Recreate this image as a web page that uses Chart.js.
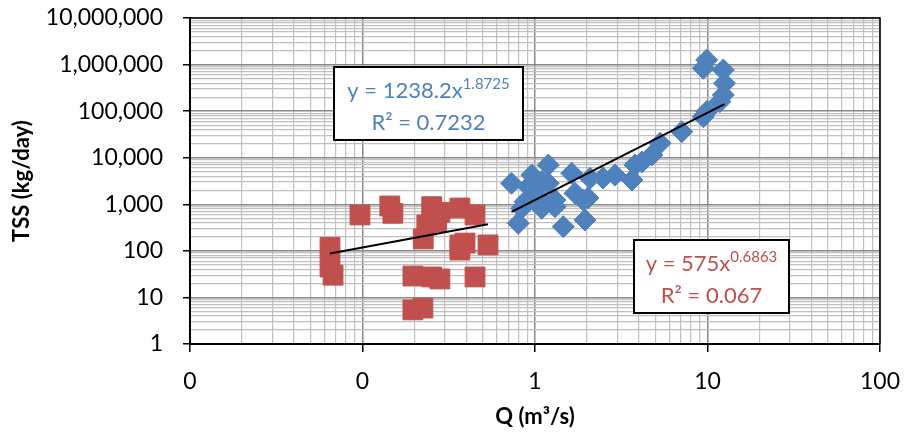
<!DOCTYPE html>
<html>
<head>
<meta charset="utf-8">
<script src="https://cdn.jsdelivr.net/npm/chart.js@4.4.1/dist/chart.umd.min.js"></script>
<style>
  html, body { margin: 0; padding: 0; background: #fff; }
  #wrap { width: 904px; height: 438px; }
</style>
</head>
<body>
<div id="wrap"><canvas id="tssChart" width="904" height="438"></canvas></div>
<script>
// Red series: low-flow samples
var redQ = [0.0648, 0.0648, 0.0675, 0.0967, 0.144, 0.150, 0.252, 0.236, 0.225, 0.269, 0.281,
            0.367, 0.449, 0.367, 0.393, 0.367, 0.534, 0.196, 0.252, 0.281, 0.449, 0.196, 0.224];
var redTSS = [119, 45, 30, 589, 919, 641, 888, 359, 180, 423, 673,
              832, 589, 134, 147, 104, 134, 28.8, 27.5, 24.9, 27.5, 5.4, 5.9];

// Blue series: high-flow samples
var blueQ = [0.731, 0.800, 0.837, 0.875, 0.915, 0.957, 1.045, 1.093, 1.093, 1.194, 1.194, 1.306,
             1.306, 1.459, 1.632, 1.706, 1.905, 1.950, 2.084, 2.029, 2.48, 2.91, 3.65, 3.80,
             4.17, 4.77, 5.31, 7.09, 9.46, 9.89, 11.8, 12.35, 12.55, 12.35, 9.89, 9.46];
var blueTSS = [2825, 391, 820, 1137, 2387, 4256, 1456, 820, 3055, 6979, 2825, 1236,
               888, 330, 4627, 1722, 1236, 460, 3614, 1365, 3666, 4256, 3324, 6979,
               8094, 11430, 20400, 36200, 76000, 97300, 159600, 222300, 396300, 765000, 1254000, 831800];

// Power trendline coefficients (y = a * x^b)
var blueFit = { a: 1238.2, b: 1.8725, r2: '0.7232' };
var redFit = { a: 575, b: 0.6863, r2: '0.067' };

var xTicks = [0.01, 0.1, 1, 10, 100];
var yTicks = [1, 10, 100, 1000, 10000, 100000, 1000000, 10000000];

var BLUE = '#4F81BD';
var RED = '#C0504D';
var FONT = 'Lato';

function pairs(xs, ys) {
  return xs.map(function (x, i) { return { x: x, y: ys[i] }; });
}

function fitLine(xs, fit) {
  var lo = Math.min.apply(null, xs), hi = Math.max.apply(null, xs);
  return [lo, hi].map(function (x) { return { x: x, y: fit.a * Math.pow(x, fit.b) }; });
}

// every 1..9 multiple inside each decade, for log grid lines
function logTicks(decades) {
  var out = [];
  for (var i = 0; i < decades.length - 1; i++) {
    for (var k = 1; k < 10; k++) out.push({ value: decades[i] * k });
  }
  out.push({ value: decades[decades.length - 1] });
  return out;
}

function isDecade(v) {
  var l = Math.log10(v);
  return Math.abs(l - Math.round(l)) < 1e-9;
}

function gridColor(ctx) {
  return ctx.tick && isDecade(ctx.tick.value) ? '#888888' : '#c0c0c0';
}
function gridWidth(ctx) {
  return ctx.tick && isDecade(ctx.tick.value) ? 1.5 : 1.2;
}
function tickColor(ctx) {
  return ctx.tick && isDecade(ctx.tick.value) ? '#000' : 'rgba(0,0,0,0)';
}
function tickLabel(v) {
  return isDecade(v) ? Math.round(v).toLocaleString('en-US') : '';
}

// equation boxes, placed relative to the plot area
var eqBoxes = [
  { fit: blueFit, color: BLUE, left: 144, top: 49, width: 189, height: 73, main: 'y = 1238.2x', sup: '1.8725' },
  { fit: redFit, color: RED, left: 444, top: 222, width: 155, height: 73, main: 'y = 575x', sup: '0.6863' }
];

var framePlugin = {
  id: 'frame',
  afterDraw: function (chart) {
    var ctx = chart.ctx, a = chart.chartArea;
    ctx.save();
    ctx.strokeStyle = '#000';
    ctx.lineWidth = 1.5;
    ctx.beginPath();
    ctx.moveTo(a.left, a.top);
    ctx.lineTo(a.right, a.top);
    ctx.lineTo(a.right, a.bottom);
    ctx.stroke();

    eqBoxes.forEach(function (b) {
      var x0 = a.left + b.left, y0 = a.top + b.top;
      ctx.fillStyle = '#fff';
      ctx.fillRect(x0, y0, b.width, b.height);
      ctx.lineWidth = 2;
      ctx.strokeStyle = '#000';
      ctx.strokeRect(x0, y0, b.width, b.height);

      var cx = x0 + b.width / 2;
      ctx.fillStyle = b.color;
      ctx.textBaseline = 'alphabetic';
      ctx.textAlign = 'left';
      ctx.font = '22px ' + FONT;
      var wMain = ctx.measureText(b.main).width;
      ctx.font = '15px ' + FONT;
      var wSup = ctx.measureText(b.sup).width;
      var sx = cx - (wMain + wSup) / 2;
      ctx.font = '22px ' + FONT;
      ctx.fillText(b.main, sx, y0 + 31);
      ctx.font = '15px ' + FONT;
      ctx.fillText(b.sup, sx + wMain, y0 + 22);

      ctx.font = '22px ' + FONT;
      ctx.textAlign = 'center';
      ctx.fillText('R\u00B2 = ' + b.fit.r2, cx, y0 + 63);
    });
    ctx.restore();
  }
};

new Chart(document.getElementById('tssChart'), {
  type: 'scatter',
  data: {
    datasets: [
      {
        label: 'Blue trend',
        type: 'line',
        data: fitLine(blueQ, blueFit),
        borderColor: '#000',
        borderWidth: 2,
        pointRadius: 0,
        fill: false,
        order: 0
      },
      {
        label: 'Red trend',
        type: 'line',
        data: fitLine(redQ, redFit),
        borderColor: '#000',
        borderWidth: 2,
        pointRadius: 0,
        fill: false,
        order: 0
      },
      {
        label: 'Red',
        data: pairs(redQ, redTSS),
        pointStyle: 'rect',
        pointRadius: 14,
        backgroundColor: RED,
        borderColor: RED,
        borderWidth: 1,
        order: 1
      },
      {
        label: 'Blue',
        data: pairs(blueQ, blueTSS),
        pointStyle: 'rectRot',
        pointRadius: 11,
        backgroundColor: BLUE,
        borderColor: BLUE,
        borderWidth: 1,
        order: 2
      }
    ]
  },
  options: {
    responsive: false,
    animation: false,
    layout: { padding: { top: 18, right: 24, left: 0, bottom: 0 } },
    plugins: {
      legend: { display: false },
      tooltip: { enabled: false }
    },
    scales: {
      x: {
        type: 'logarithmic',
        min: xTicks[0],
        max: xTicks[xTicks.length - 1],
        afterBuildTicks: function (s) { s.ticks = logTicks(xTicks); },
        afterFit: function (s) { s.height = 94; s.paddingLeft = 0; s.paddingRight = 0; },
        border: { color: '#000', width: 2 },
        grid: { color: gridColor, lineWidth: gridWidth, tickColor: tickColor, tickLength: 8, tickWidth: 1.5 },
        ticks: {
          autoSkip: false, maxRotation: 0, padding: 16, color: '#000',
          font: { family: FONT, size: 23 },
          callback: tickLabel
        },
        title: {
          display: true, text: 'Q (m\u00B3/s)', color: '#000',
          font: { family: FONT, size: 22, weight: 'bold' },
          padding: { top: 0, bottom: 8 }
        }
      },
      y: {
        type: 'logarithmic',
        min: yTicks[0],
        max: yTicks[yTicks.length - 1],
        afterBuildTicks: function (s) { s.ticks = logTicks(yTicks); },
        afterFit: function (s) { s.width = 190; s.paddingTop = 0; s.paddingBottom = 0; },
        border: { color: '#000', width: 2 },
        grid: { color: gridColor, lineWidth: gridWidth, tickColor: tickColor, tickLength: 7, tickWidth: 1.5 },
        ticks: {
          autoSkip: false, padding: 20, color: '#000',
          font: { family: FONT, size: 23 },
          callback: tickLabel
        },
        title: {
          display: true, text: 'TSS (kg/day)', color: '#000',
          font: { family: FONT, size: 22, weight: 'bold' },
          padding: { top: 9, bottom: 0 }
        }
      }
    }
  },
  plugins: [framePlugin]
});
</script>
</body>
</html>
